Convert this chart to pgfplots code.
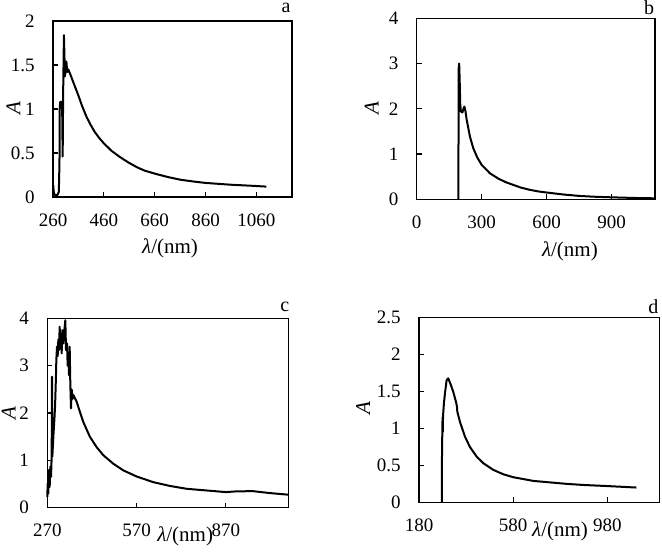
\documentclass[border=0pt]{standalone}
\usepackage{fontspec}
\setmainfont{Liberation Serif}
\usepackage{pgfplots}
\pgfplotsset{compat=1.18}

% shared look of the four panels
\pgfplotsset{
  panel/.style={
    scale only axis,
    axis line style={line width=0.7pt},
    tick align=inside,
    xtick pos=bottom, ytick pos=left,
    major tick length=2.5pt,
    tick style={line width=0.6pt, black},
    /pgf/number format/assume math mode=true,
    /pgf/number format/1000 sep={},
    tick label style={font=\fontsize{9.5}{11}\selectfont},
    xticklabel style={anchor=center, yshift=-11.5pt},
    yticklabel style={anchor=east, inner sep=0pt, xshift=-9pt},
    label style={font=\fontsize{10.5}{12}\selectfont},
    xlabel={\textit{λ}/(nm)},
    ylabel={\textit{A}},
    clip=false,
  },
  curve/.style={black, line width=1pt, no marks, line join=round},
}
\tikzset{panel tag/.style={anchor=center, font=\fontsize{10}{11}\selectfont}}

\begin{document}
\begin{tikzpicture}
\path[use as bounding box] (0,0) rectangle (331pt,277pt);

% ---- a ----
\begin{axis}[panel, at={(26.5pt,178.5pt)}, anchor=south west,
  width=119.5pt, height=88pt,
  xmin=260, xmax=1200, ymin=0, ymax=2,
  xtick={260,460,660,860,1060}, ytick={0,0.5,1,1.5,2},
  xlabel style={at={(axis description cs:0.49,-0.29)}, anchor=center},
  ylabel style={at={(axis description cs:-0.166,0.504)}, anchor=center}]
\addplot[curve] coordinates {
  (261,0.13) (262.5,0.07) (265,0.035) (270,0.02) (278,0.025) (283,0.06)
  (285.5,0.4) (286.5,1.0) (288,1.08) (295,1.08) (296.5,0.9) (298,0.46)
  (300,1.2) (303,1.84) (305,1.6) (307,1.37) (310,1.45) (312.6,1.54)
  (316,1.42) (320,1.45) (330,1.38) (339,1.31) (359,1.16) (375,1.03)
  (392,0.91) (408,0.82) (424,0.74) (442,0.67) (460,0.61) (490,0.525)
  (523,0.455) (555,0.395) (589,0.34) (620,0.30) (660,0.266) (710,0.228)
  (760,0.197) (810,0.177) (860,0.16) (957,0.14) (1060,0.125) (1099,0.118)};
\node[panel tag] at (axis description cs:0.975,1.074) {a};
\end{axis}

% ---- b ----
\begin{axis}[panel, at={(208.35pt,177.35pt)}, anchor=south west,
  width=119.15pt, height=90.5pt,
  xmin=0, xmax=1100, ymin=0, ymax=4,
  xtick={0,300,600,900}, ytick={0,1,2,3,4},
  xlabel style={at={(axis description cs:0.643,-0.286)}, anchor=center},
  ylabel style={at={(axis description cs:-0.189,0.503)}, anchor=center}]
\addplot[curve] coordinates {
  (192.5,0) (193,1.5) (194,2.9) (196,3.0) (198,2.7) (201,2.1) (204,1.94)
  (211,1.92) (216,2.0) (220,2.05) (225,1.95) (231,1.75) (246,1.38)
  (261,1.13) (280,0.92) (300,0.76) (338,0.575) (376,0.46) (410,0.38)
  (445,0.32) (480,0.26) (522,0.21) (560,0.175) (600,0.15) (680,0.105)
  (752,0.074) (820,0.057) (900,0.044) (1000,0.03) (1100,0.022)};
\node[panel tag] at (axis description cs:0.975,1.057) {b};
\end{axis}

% ---- c ----
\begin{axis}[panel, at={(23.65pt,23.15pt)}, anchor=south west,
  width=120.5pt, height=94.7pt,
  xmin=270, xmax=1080, ymin=0, ymax=4,
  xtick={270,570,870}, ytick={0,1,2,3,4},
  xlabel style={at={(axis description cs:0.572,-0.153)}, anchor=center},
  ylabel style={at={(axis description cs:-0.16,0.498)}, anchor=center}]
\addplot[curve] coordinates {
  (270,0.23) (271.3,0.51) (273.5,0.30) (275.7,0.80) (278,0.44) (280.2,0.87)
  (282.5,0.65) (284.7,1.08) (285.8,2.77) (287,1.08) (290.3,1.5) (293.7,1.85)
  (296,2.13) (298.1,2.55) (300.4,3.12) (302.6,3.4) (304.9,3.2) (307.1,3.55)
  (309.3,3.33) (311.6,3.82) (313.8,3.4) (316,3.6) (318.3,3.26) (320.5,3.75)
  (323.9,3.47) (327.3,3.75) (330.6,3.96) (332.9,3.33) (336.2,3.47)
  (338.5,3.0) (340.7,3.2) (343,2.8) (345.2,3.4) (347.4,2.6) (349.7,2.1)
  (351.9,2.5) (355.3,2.3) (357.4,2.38) (368.6,2.24) (379.8,2.02) (391,1.81)
  (413,1.50) (435.7,1.28) (458,1.11) (491.7,0.93) (525,0.79) (570,0.66)
  (626,0.54) (682,0.46) (738,0.40) (794,0.37) (870,0.33) (905.7,0.345)
  (961,0.35) (1017,0.31) (1080,0.275)};
\node[panel tag] at (axis description cs:0.986,1.061) {c};
\end{axis}

% ---- d ----
\begin{axis}[panel, at={(209.5pt,25.85pt)}, anchor=south west,
  width=120.15pt, height=92.3pt,
  xmin=180, xmax=1200, ymin=0, ymax=2.5,
  xtick={180,580,980}, ytick={0,0.5,1,1.5,2,2.5},
  xlabel style={at={(axis description cs:0.587,-0.159)}, anchor=center},
  ylabel style={at={(axis description cs:-0.232,0.509)}, anchor=center}]
\addplot[curve] coordinates {
  (277,0) (277.5,0.6) (279,0.97) (280,1.15) (281,0.95) (282,1.17)
  (286,1.35) (290,1.47) (297,1.65) (304,1.68) (314,1.60) (325,1.50)
  (337,1.36) (341,1.30) (342.5,1.23) (353.8,1.09) (375,0.89) (396,0.75)
  (424.5,0.62) (452.8,0.53) (495,0.44) (537.6,0.38) (580,0.34) (665,0.29)
  (735.5,0.27) (806,0.25) (877,0.235) (980,0.22) (1103,0.20)};
\node[panel tag] at (axis description cs:0.975,1.06) {d};
\end{axis}
\end{tikzpicture}
\end{document}
